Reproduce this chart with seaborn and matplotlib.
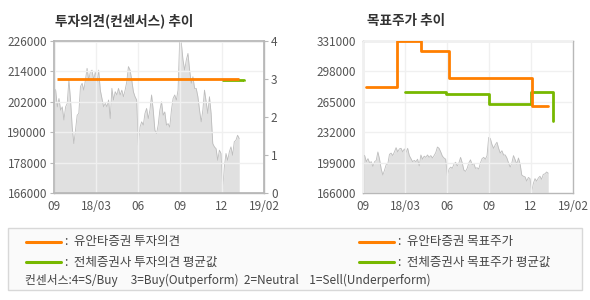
import numpy as np
import pandas as pd
import matplotlib
matplotlib.use("Agg")
import matplotlib.pyplot as plt
import seaborn as sns
from matplotlib.lines import Line2D
from matplotlib.patches import Rectangle

# ---------------- data ----------------
x_tick_labels = ["09", "18/03", "06", "09", "12", "19/02"]

# daily closing price (thousand won), evenly spaced in time
price_k = [207.3, 206.6, 200.0, 203.3, 198.7, 200.0, 194.8, 200.0, 201.4, 210.6,
           202.7, 192.0, 185.5, 190.8, 196.7, 197.4, 208.0, 209.3, 206.6, 210.6,
           215.2, 210.6, 213.9, 214.5, 210.6, 213.9, 209.9, 214.5, 206.6, 203.3,
           200.0, 201.4, 200.0, 202.7, 195.4, 207.3, 202.7, 206.0, 204.7, 207.3,
           204.7, 206.6, 204.0, 206.6, 209.9, 215.9, 214.5, 210.6, 206.0, 204.0,
           202.7, 184.9, 192.0, 194.1, 192.8, 197.4, 199.4, 195.4, 198.7, 204.7,
           198.7, 190.8, 189.5, 192.8, 198.7, 202.0, 196.7, 198.0, 192.8, 193.4,
           192.0, 198.7, 203.3, 204.7, 202.7, 206.6, 226.4, 225.1, 218.5, 214.5,
           218.5, 221.1, 214.5, 209.3, 211.9, 207.3, 207.3, 204.0, 198.7, 194.1,
           198.7, 206.6, 202.0, 197.4, 204.0, 197.4, 185.5, 184.2, 183.5, 178.9,
           182.9, 181.6, 167.7, 176.3, 181.6, 178.9, 182.2, 184.2, 180.9, 186.2,
           186.8, 188.8, 187.5]
price_start, price_end = 0.0, 4.41   # position on the time axis (tick units)

# investment opinion (consensus score)
op_yuanta_x = [0.07, 4.40]
op_yuanta_y = [3.0, 3.0]
op_avg_x = [4.00, 4.50, 4.52]
op_avg_y = [2.97, 2.97, 2.94]

# target price
tp_yuanta_x = [0.08, 0.81, 1.37, 2.04, 4.03, 4.40]
tp_yuanta_y = [281000, 331000, 320000, 291000, 260000, 260000]
tp_avg_x = [1.00, 1.98, 2.99, 4.00, 4.52, 4.52]
tp_avg_y = [276000, 273000, 263000, 276000, 276000, 244000]

left_yticks = [166000, 178000, 190000, 202000, 214000, 226000]
right_yticks = [166000, 199000, 232000, 265000, 298000, 331000]

# ---------------- style ----------------
sns.set_theme(style="white")
plt.rcParams['font.family'] = ['Noto Sans CJK KR', 'DejaVu Sans']

ORANGE = "#FF7F00"
GREEN = "#77B800"
FILL = "#E0E0E0"
EDGE = "#BDBDBD"
GRID = "#F0F0F0"
SPINE = "#B8B8B8"
TXT = "#555555"
TICK_FS = 8.5

price = np.array(price_k) * 1000
px = np.linspace(price_start, price_end, len(price))
df = pd.DataFrame({"x": px, "price": price})

fig = plt.figure(figsize=(5.9, 3.0), dpi=100)
W, H = 590, 300

def add_ax(x0, y0, x1, y1):
    return fig.add_axes([x0 / W, 1 - y1 / H, (x1 - x0) / W, (y1 - y0) / H])

def style_ax(ax, yticks):
    ax.set_xlim(0, 5)
    ax.set_ylim(yticks[0], yticks[-1])
    ax.set_xticks(range(6))
    ax.set_xticklabels(x_tick_labels)
    ax.set_yticks(yticks)
    ax.set_yticklabels([str(v) for v in yticks])
    ax.grid(True, color=GRID, linewidth=1.0)
    ax.set_axisbelow(False)
    for gl in ax.get_xgridlines() + ax.get_ygridlines():
        gl.set_zorder(2)
    for s in ax.spines.values():
        s.set_color(SPINE)
        s.set_linewidth(1.0)
    ax.tick_params(axis="both", labelsize=TICK_FS, colors=TXT, length=3, width=0.8,
                   color=SPINE, pad=2)
    ax.set_xlabel("")
    ax.set_ylabel("")

# ---------- left chart ----------
ax1 = add_ax(54, 41, 264, 193)
ax1.fill_between(df["x"], left_yticks[0], df["price"], color=FILL,
                 linewidth=0, zorder=1)
sns.lineplot(data=df, x="x", y="price", ax=ax1, color=EDGE, linewidth=0.6, zorder=1.5)
style_ax(ax1, left_yticks)

ax1r = ax1.twinx()
ax1r.set_ylim(0, 4)
ax1r.set_yticks([0, 1, 2, 3, 4])
ax1r.set_yticklabels(["0", "1", "2", "3", "4"])
ax1r.tick_params(axis="y", labelsize=TICK_FS, colors=TXT, length=3, width=0.8,
                 color=SPINE, pad=2)
for s in ax1r.spines.values():
    s.set_color(SPINE)
ax1r.grid(False)
ax1r.plot(op_avg_x, op_avg_y, color=GREEN, linewidth=2.0, drawstyle="steps-post",
          solid_capstyle="butt", zorder=3)
ax1r.plot(op_yuanta_x, op_yuanta_y, color=ORANGE, linewidth=2.0, solid_capstyle="butt",
          zorder=4)
ax1r.set_ylabel("")

fig.text(55 / W, 1 - 21 / H, "투자의견(컨센서스) 추이", fontsize=9.8, fontweight="bold",
         color="#333333", va="center", ha="left")

# ---------- right chart ----------
ax2 = add_ax(363, 41, 573, 193)
ax2.fill_between(df["x"], right_yticks[0], df["price"], color=FILL, linewidth=0, zorder=1)
sns.lineplot(data=df, x="x", y="price", ax=ax2, color=EDGE, linewidth=0.6, zorder=1.5)
ax2.plot(tp_yuanta_x, tp_yuanta_y, color=ORANGE, linewidth=2.0, drawstyle="steps-post",
         zorder=4)
ax2.plot(tp_avg_x, tp_avg_y, color=GREEN, linewidth=2.0, drawstyle="steps-post", zorder=3)
style_ax(ax2, right_yticks)

fig.text(367 / W, 1 - 21 / H, "목표주가 추이", fontsize=9.8, fontweight="bold",
         color="#333333", va="center", ha="left")

# ---------- legend box ----------
fig.patches.append(Rectangle((8 / W, 1 - 290 / H), (582 - 8) / W, (290 - 228) / H,
                             transform=fig.transFigure, facecolor="#FAFAFA",
                             edgecolor="#D8D8D8", linewidth=1.0))

def legend_item(x0, y, color, label):
    fig.lines.append(Line2D([x0 / W, (x0 + 35) / W], [1 - y / H, 1 - y / H],
                            transform=fig.transFigure, color=color, linewidth=2.2))
    fig.text((x0 + 39) / W, 1 - y / H, ":  " + label, fontsize=9, color="#444444",
             va="center", ha="left")

legend_item(26, 242, ORANGE, "유안타증권 투자의견")
legend_item(26, 262, GREEN, "전체증권사 투자의견 평균값")
legend_item(359, 242, ORANGE, "유안타증권 목표주가")
legend_item(359, 262, GREEN, "전체증권사 목표주가 평균값")
fig.text(25 / W, 1 - 280 / H,
         "컨센서스:4=S/Buy     3=Buy(Outperform)  2=Neutral    1=Sell(Underperform)",
         fontsize=8.5, color="#444444", va="center", ha="left")

fig.savefig("out.png", dpi=100)
